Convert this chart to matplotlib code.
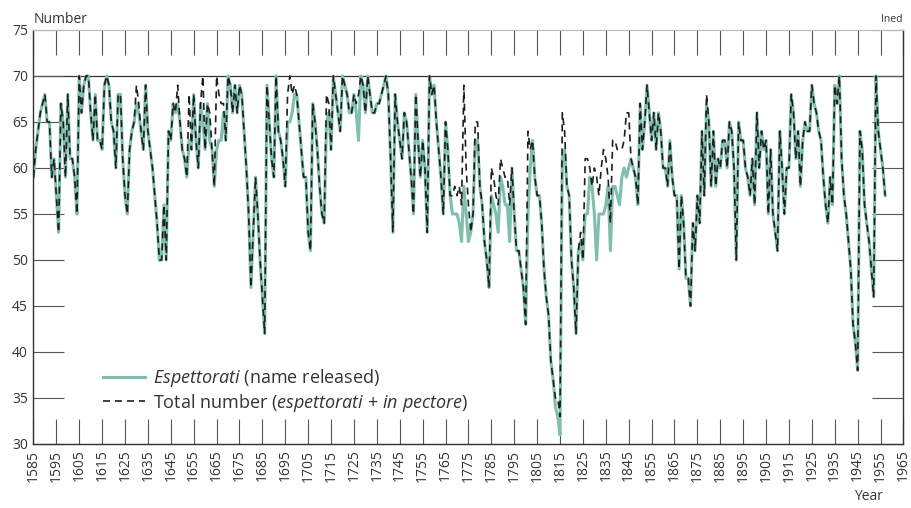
import matplotlib
matplotlib.use('Agg')
import matplotlib.pyplot as plt
import numpy as np

plt.rcParams['font.family'] = 'Open Sans'
plt.rcParams['mathtext.fontset'] = 'custom'
plt.rcParams['mathtext.rm'] = 'Open Sans'
plt.rcParams['mathtext.it'] = 'Open Sans:italic'

# number of cardinals each year, 1585-1957
years = np.arange(1585, 1958)
espettorati = [
    59, 62, 64, 66, 67, 68, 65, 65, 59, 61,
    57, 53, 67, 65, 59, 68, 61, 61, 59, 55,
    70, 66, 69, 70, 70, 66, 63, 68, 63, 63,
    62, 69, 70, 69, 65, 64, 60, 68, 68, 61,
    57, 55, 62, 64, 65, 67, 66, 64, 62, 69,
    64, 62, 60, 57, 54, 50, 50, 56, 50, 64,
    63, 67, 66, 67, 65, 62, 61, 59, 63, 62,
    68, 63, 60, 67, 65, 62, 67, 63, 62, 58,
    62, 63, 63, 66, 63, 70, 69, 66, 69, 66,
    69, 68, 64, 60, 55, 47, 53, 59, 55, 50,
    46, 42, 69, 65, 61, 59, 70, 64, 63, 61,
    58, 65, 65, 66, 68, 68, 65, 62, 59, 59,
    53, 51, 67, 65, 62, 58, 55, 54, 65, 66,
    62, 70, 68, 66, 64, 70, 69, 68, 66, 66,
    68, 66, 63, 70, 69, 66, 70, 68, 66, 66,
    67, 67, 68, 69, 70, 68, 61, 53, 68, 65,
    63, 61, 66, 65, 62, 59, 55, 68, 63, 59,
    63, 60, 53, 70, 68, 69, 65, 62, 59, 55,
    65, 62, 57, 55, 55, 55, 54, 52, 58, 55,
    52, 53, 55, 63, 63, 58, 56, 52, 50, 47,
    57, 56, 55, 53, 59, 58, 56, 56, 52, 60,
    55, 51, 51, 49, 47, 43, 55, 60, 63, 59,
    57, 57, 54, 49, 46, 44, 39, 37, 34, 33,
    31, 61, 62, 58, 57, 50, 47, 42, 51, 52,
    50, 55, 55, 59, 58, 55, 50, 55, 55, 55,
    56, 58, 51, 58, 58, 57, 56, 59, 60, 59,
    60, 61, 60, 59, 56, 67, 62, 65, 69, 66,
    63, 66, 62, 66, 64, 60, 60, 58, 63, 59,
    57, 57, 49, 57, 54, 48, 48, 45, 54, 51,
    57, 54, 64, 57, 67, 65, 58, 64, 58, 61,
    60, 63, 63, 60, 65, 64, 60, 50, 65, 63,
    63, 60, 59, 57, 61, 56, 66, 60, 64, 62,
    63, 55, 62, 55, 53, 51, 64, 60, 55, 60,
    60, 68, 66, 61, 64, 58, 63, 65, 64, 64,
    69, 67, 66, 64, 63, 59, 56, 54, 59, 56,
    69, 67, 70, 61, 57, 55, 52, 49, 43, 41,
    38, 64, 62, 56, 54, 52, 49, 46, 70, 64,
    62, 60, 57,
]

# cardinals held in pectore (not yet published)
ip_years = [1630, 1631, 1648, 1653, 1659, 1662, 1665, 1666, 1667, 1668,
            1696, 1697, 1698, 1699, 1713, 1714, 1726, 1727,
            1768, 1769, 1770, 1771, 1772, 1773, 1774, 1775, 1778, 1779,
            1785, 1786, 1787, 1788, 1789, 1790, 1791, 1792, 1793,
            1801, 1802, 1813, 1814, 1815, 1816, 1817, 1824,
            1826, 1827, 1828, 1830, 1831, 1832, 1833, 1834, 1835, 1836,
            1837, 1838, 1839, 1840, 1841, 1842, 1843, 1844, 1845, 1879]
ip_counts = [2, 1, 2, 5, 5, 3, 8, 5, 4, 1,
             3, 5, 2, 1, 3, 1, 1, 5,
             2, 3, 2, 4, 4, 11, 5, 4, 2, 2,
             3, 3, 2, 3, 2, 2, 3, 3, 4,
             9, 2, 1, 2, 2, 5, 2, 1,
             6, 6, 1, 5, 9, 2, 5, 7, 5, 1,
             3, 5, 5, 5, 6, 3, 3, 7, 6, 1]

total = np.array(espettorati, dtype=float)
for y, c in zip(ip_years, ip_counts):
    total[y - 1585] += c

txt = '#333333'

fig = plt.figure(figsize=(9.11, 5.08), dpi=100)
ax = fig.add_axes([0.0367, 0.126, 0.955, 0.815])

ax.axhline(70, color='#333333', lw=0.9, zorder=1)
ax.plot(years, espettorati, color='#80bfae', lw=2.2, solid_joinstyle='round',
        label=r'$\mathit{Espettorati}$ (name released)', zorder=2)
ax.plot(years, total, color='#1e1e1e', lw=1.2, dashes=(4.2, 3),
        label=r'Total number ($\mathit{espettorati}$ + $\mathit{in\ pectore}$)', zorder=3)

ax.set_xlim(1585, 1965)
ax.set_ylim(30, 75)
ax.set_xticks(range(1585, 1966, 10))
ax.set_yticks(range(30, 76, 5))
ax.tick_params(axis='x', direction='in', length=18, width=0.8, top=True,
               labelrotation=90, labelsize=10, labelcolor=txt, color='#555555', pad=4)
ax.tick_params(axis='y', direction='in', length=22, width=0.8, right=True,
               labelsize=10, labelcolor=txt, color='#555555', pad=4)

for s in ['left', 'bottom', 'right']:
    ax.spines[s].set_color('#333333')
    ax.spines[s].set_linewidth(1.0)
ax.spines['top'].set_color('#bbbbbb')

leg = ax.legend(loc='lower left', bbox_to_anchor=(0.08, 0.073), frameon=False,
                fontsize=13, handlelength=2.3, labelspacing=0.14, handletextpad=0.45,
                borderpad=0, borderaxespad=0)
for t in leg.get_texts():
    t.set_color(txt)

fig.text(0.0367, 0.962, 'Number', fontsize=10, color=txt, va='center', ha='left')
fig.text(0.991, 0.962, 'Ined', fontsize=7.5, color=txt, va='center', ha='right')
fig.text(0.969, 0.022, 'Year', fontsize=10, color=txt, va='center', ha='right')

fig.savefig('out.png', dpi=100)
